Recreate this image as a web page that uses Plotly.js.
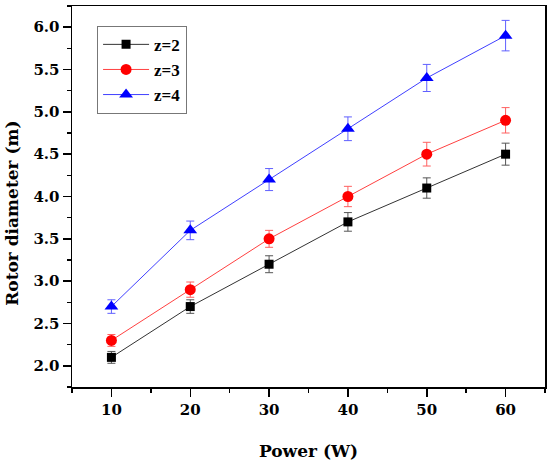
<!DOCTYPE html>
<html>
<head>
<meta charset="utf-8">
<script src="https://cdn.plot.ly/plotly-3.0.1.min.js"></script>
<style>html,body{margin:0;padding:0;background:#fff;}#chart{width:550px;height:466px;}</style>
</head>
<body>
<div id="chart"></div>
<script>
var power = [10, 20, 30, 40, 50, 60];
var z2 = [2.1, 2.7, 3.2, 3.7, 4.1, 4.5];
var z3 = [2.3, 2.9, 3.5, 4.0, 4.5, 4.9];
var z4 = [2.7, 3.6, 4.2, 4.8, 5.4, 5.9];
var z2err = [0.07, 0.08, 0.10, 0.11, 0.12, 0.13];
var z3err = [0.07, 0.09, 0.10, 0.12, 0.14, 0.15];
var z4err = [0.08, 0.11, 0.13, 0.14, 0.16, 0.18];
var seriesNames = ['z=2', 'z=3', 'z=4'];

var serif = 'DejaVu Serif, serif';
function trace(name, y, err, lineColor, errColor, markerColor, symbol, size) {
  return {
    x: power, y: y, name: name, type: 'scatter', mode: 'lines+markers',
    line: {color: lineColor, width: 1},
    marker: {color: markerColor, symbol: symbol, size: size},
    error_y: {type: 'data', array: err, visible: true, color: errColor, thickness: 1, width: 4},
    legendgroup: name
  };
}
var data = [
  trace(seriesNames[0], z2, z2err, '#333333', '#555555', '#000000', 'square', 9),
  trace(seriesNames[1], z3, z3err, '#ff4040', '#ff6060', '#ff0000', 'circle', 11),
  trace(seriesNames[2], z4, z4err, '#4040ff', '#6060ff', '#0000ff', 'triangle-up', 12)
];

var layout = {
  width: 550, height: 466,
  margin: {l: 72, r: 5, t: 6, b: 79},
  paper_bgcolor: '#fff', plot_bgcolor: '#fff',
  showlegend: true,
  legend: {
    x: 0.053, y: 0.948, xanchor: 'left', yanchor: 'top',
    bordercolor: '#777', borderwidth: 1, bgcolor: '#fff',
    font: {family: 'Liberation Serif', size: 17, color: '#000', weight: 'bold'},
    traceorder: 'grouped', tracegroupgap: 0, itemwidth: 46, entrywidth: 100
  },
  xaxis: {
    range: [5, 65], tick0: 10, dtick: 10, showgrid: false, zeroline: false,
    ticks: 'outside', ticklen: 8, tickwidth: 1.5, tickcolor: '#000',
    showline: true, linecolor: '#000', linewidth: 1.5, mirror: true,
    tickfont: {family: serif, size: 15, color: '#000', weight: 'bold'},
    minor: {ticks: 'outside', ticklen: 4, dtick: 5, tick0: 5, tickwidth: 1.5, tickcolor: '#000'},
    title: {text: 'Power (W)', font: {family: serif, size: 17, color: '#000', weight: 'bold'}, standoff: 27}
  },
  yaxis: {
    range: [1.75, 6.25], tick0: 2, dtick: 0.5, tickformat: '.1f', showgrid: false, zeroline: false,
    ticks: 'outside', ticklen: 8, tickwidth: 1.5, tickcolor: '#000',
    showline: true, linecolor: '#000', linewidth: 1.5, mirror: true,
    tickfont: {family: serif, size: 15, color: '#000', weight: 'bold'},
    minor: {ticks: 'outside', ticklen: 4, dtick: 0.25, tick0: 1.75, tickwidth: 1.5, tickcolor: '#000'}
  },
  annotations: [{
    text: 'Rotor diameter (m)', xref: 'paper', yref: 'paper',
    x: -0.127, y: 0.457, xanchor: 'center', yanchor: 'middle', textangle: -90,
    showarrow: false, font: {family: serif, size: 17, color: '#000', weight: 'bold'}
  }]
};
Plotly.newPlot('chart', data, layout, {displayModeBar: false, staticPlot: true});
</script>
</body>
</html>
